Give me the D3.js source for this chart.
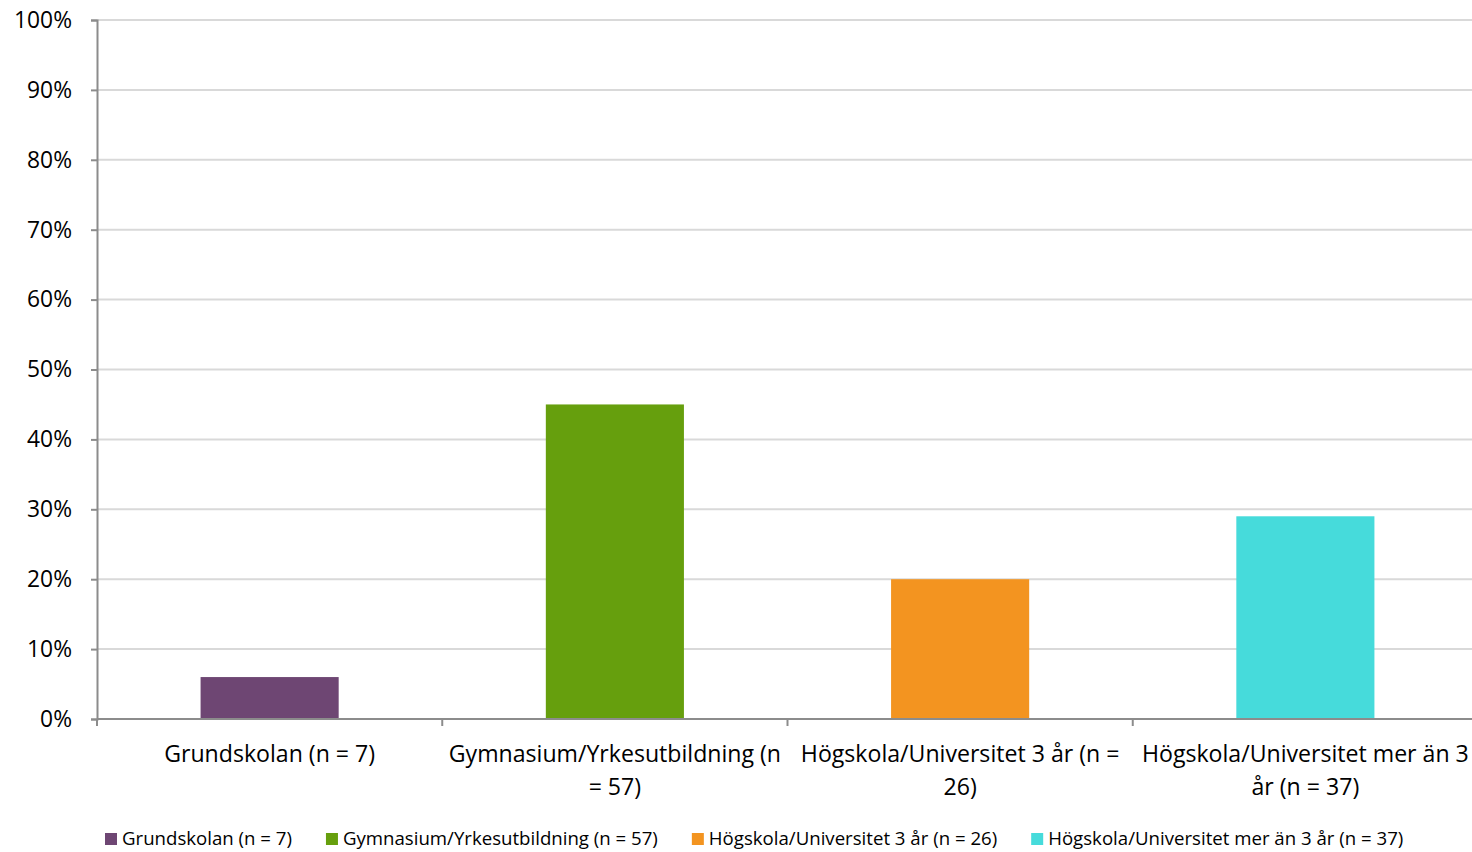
<!DOCTYPE html>
<html><head><meta charset="utf-8">
<script src="https://cdn.jsdelivr.net/npm/d3@7"></script>
<style>body{margin:0;background:#fff}svg{display:block}</style>
</head><body><svg id="c" width="1472" height="852"></svg>
<script>
const categories = ["Grundskolan (n = 7)", "Gymnasium/Yrkesutbildning (n = 57)", "Högskola/Universitet 3 år (n = 26)", "Högskola/Universitet mer än 3 år (n = 37)"];
const values = [0.06, 0.45, 0.20, 0.29];
const colors = ["#6E4673", "#669F0D", "#F39420", "#46DBDB"];
const yTicks = [0, 0.1, 0.2, 0.3, 0.4, 0.5, 0.6, 0.7, 0.8, 0.9, 1.0];

(function () {
const FONT = "'Open Sans', Lato, sans-serif";
const svg = d3.select("#c");
const pL = 97, pR = 1478, pT = 20, pB = 719;

// pick font size so a sample string has a given width
function fitSize(sample, targetW) {
  const t = svg.append("text").attr("font-family", FONT).attr("font-size", 100).text(sample);
  const w = t.node().getComputedTextLength();
  t.remove();
  return 100 * targetW / w;
}
const fsTick = fitSize("100%", 58);
const fsCat = fitSize("Grundskolan (n = 7)", 211);
const fsLeg = fitSize("Grundskolan (n = 7)", 170);

const x = d3.scaleBand().domain(categories).range([pL, pR]).paddingInner(0.6).paddingOuter(0.3);
const xb = d3.scaleBand().domain(categories).range([pL, pR]);
const y = d3.scaleLinear().domain([0, 1]).range([pB, pT]);

// gridlines
svg.append("g").selectAll("line").data(yTicks.filter(d => d > 0)).join("line")
  .attr("x1", pL).attr("x2", pR).attr("y1", d => y(d)).attr("y2", d => y(d))
  .attr("stroke", "#d9d9d9").attr("stroke-width", 2);

// bars
svg.append("g").selectAll("rect").data(values).join("rect")
  .attr("x", (d, i) => x(categories[i])).attr("width", x.bandwidth())
  .attr("y", d => y(d)).attr("height", d => y(0) - y(d))
  .attr("fill", (d, i) => colors[i]);

// y axis
const ya = svg.append("g").attr("transform", `translate(${pL},0)`)
  .call(d3.axisLeft(y).tickValues(yTicks).tickFormat(d3.format(".0%")).tickSize(6).tickPadding(19));
ya.select(".domain").attr("stroke", "#8c8c8c").attr("stroke-width", 2);
ya.selectAll(".tick line").attr("stroke", "#8c8c8c").attr("stroke-width", 2);
ya.selectAll("text").attr("font-family", FONT).attr("font-size", fsTick).attr("fill", "#000");

// x axis
const xa = svg.append("g").attr("transform", `translate(0,${pB})`);
xa.append("line").attr("x1", pL).attr("x2", pR).attr("y1", 0).attr("y2", 0)
  .attr("stroke", "#8c8c8c").attr("stroke-width", 2);
const bounds = categories.map(c => xb(c)).concat([pR]);
xa.selectAll("line.t").data(bounds).join("line").attr("class", "t")
  .attr("x1", d => d).attr("x2", d => d).attr("y1", 0).attr("y2", 7)
  .attr("stroke", "#8c8c8c").attr("stroke-width", 2);

// category labels with wrapping
const lbl = svg.append("g");
categories.forEach(c => {
  const cx = xb(c) + xb.bandwidth() / 2;
  const t = lbl.append("text").attr("x", cx).attr("y", 762)
    .attr("text-anchor", "middle").attr("font-family", FONT).attr("font-size", fsCat).attr("fill", "#000");
  const words = c.split(" ");
  let line = [];
  let ts = t.append("tspan").attr("x", cx).attr("dy", 0);
  const maxW = 340;
  words.forEach(w => {
    line.push(w);
    ts.text(line.join(" "));
    if (ts.node().getComputedTextLength() > maxW && line.length > 1) {
      line.pop(); ts.text(line.join(" "));
      line = [w];
      ts = t.append("tspan").attr("x", cx).attr("dy", 33).text(w);
    }
  });
});

// legend
const leg = svg.append("g");
let lx = 0;
categories.forEach((c, i) => {
  const g = leg.append("g").attr("transform", `translate(${lx},0)`);
  g.append("rect").attr("x", 0).attr("y", 833).attr("width", 12).attr("height", 12).attr("fill", colors[i]);
  const tx = g.append("text").attr("x", 17).attr("y", 845).attr("font-family", FONT)
    .attr("font-size", fsLeg).attr("fill", "#000").text(c);
  lx += 17 + tx.node().getComputedTextLength() + 34;
});
leg.attr("transform", `translate(${105},0)`);
})();
</script></body></html>
